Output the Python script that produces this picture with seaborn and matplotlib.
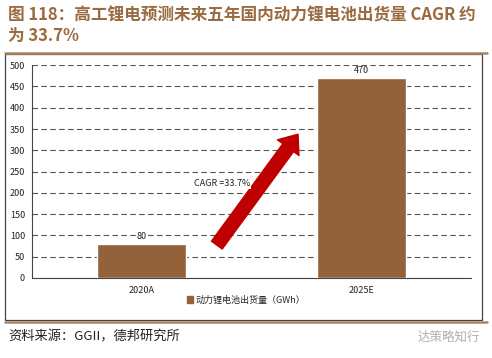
import matplotlib
matplotlib.use("Agg")
import matplotlib.pyplot as plt
import pandas as pd
import seaborn as sns
from matplotlib.lines import Line2D
from matplotlib.patches import Rectangle

# Data
categories = ["2020A", "2025E"]
shipments = [80, 470]  # GWh
cagr_label = "CAGR =33.7%"
series_name = "动力锂电池出货量（GWh）"
title = "图 118：高工锂电预测未来五年国内动力锂电池出货量 CAGR 约\n为 33.7%"
source = "资料来源：GGII，德邦研究所"
watermark = "达策略知行"
yticks = list(range(0, 550, 50))

bar_color = "#93623A"
brown = "#9A6A40"
line_brown = "#A88466"

sns.set_style("white")
plt.rcParams["font.family"] = ["Noto Sans CJK SC", "DejaVu Sans"]

df = pd.DataFrame({"year": categories, "value": shipments})

fig = plt.figure(figsize=(4.92, 3.58), dpi=100)
ax = fig.add_axes([0.065, 0.2235, 0.892, 0.5945])

sns.barplot(data=df, x="year", y="value", color=bar_color, width=0.405,
            saturation=1, ax=ax, zorder=3)

ax.set_xlim(-0.5, 1.5)
ax.set_ylim(0, 500)
ax.set_yticks(yticks)
ax.set_xlabel("")
ax.set_ylabel("")
ax.yaxis.grid(True, linestyle=(0, (5, 3)), color="#555555", linewidth=0.8)
ax.set_axisbelow(True)
for side in ["top", "right"]:
    ax.spines[side].set_visible(False)
for side in ["left", "bottom"]:
    ax.spines[side].set_color("#444444")
    ax.spines[side].set_linewidth(0.8)
ax.tick_params(axis="both", labelsize=6.5, colors="#222222", length=3, width=0.6,
               direction="out", pad=2)
ax.tick_params(axis="x", length=0, pad=6)
# ticks between categories on x axis
ax.set_xticks([0.5, 1.5], minor=True)
ax.tick_params(axis="x", which="minor", length=3, width=0.6, color="#444444")

# value labels
for i, v in enumerate(shipments):
    ax.text(i, v + 6, str(v), ha="center", va="bottom", fontsize=6.5,
            color="#222222", zorder=4,
            bbox=dict(facecolor="white", edgecolor="none", pad=0.5))

# CAGR arrow and label
ax.annotate("", xy=(0.72, 343), xytext=(0.335, 72),
            arrowprops=dict(arrowstyle="simple,head_length=1.0,head_width=1.6,tail_width=0.8",
                            color="#C00000", mutation_scale=12),
            zorder=5)
ax.text(0.365, 223, cagr_label, ha="center", va="center", fontsize=6.5,
        color="#222222", zorder=5,
        bbox=dict(facecolor="white", edgecolor="none", pad=1))

# legend
handle = Rectangle((0, 0), 1, 1, color=bar_color)
fig.legend([handle], [series_name], loc="center", bbox_to_anchor=(0.5, 0.162),
           frameon=False, fontsize=6.5, handlelength=0.7, handleheight=0.7,
           handletextpad=0.3)

# frame around chart
fig.add_artist(Rectangle((5 / 492, 1 - 320 / 358), 477 / 492, 266 / 358,
                         transform=fig.transFigure, fill=False,
                         edgecolor="#444444", linewidth=0.9))

# title and rules
fig.text(8 / 492, 1 - 6 / 358, title, ha="left", va="top", fontsize=12,
         fontweight="bold", color=brown, linespacing=1.2)
fig.add_artist(Line2D([5 / 492, 487 / 492], [1 - 52.5 / 358] * 2,
                      transform=fig.transFigure, color=line_brown, linewidth=1.8))
fig.add_artist(Line2D([5 / 492, 487 / 492], [1 - 322 / 358] * 2,
                      transform=fig.transFigure, color=line_brown, linewidth=1.8))

fig.text(8 / 492, 1 - 337 / 358, source, ha="left", va="center", fontsize=9.5,
         color="#222222")
fig.text(480 / 492, 1 - 337 / 358, watermark, ha="right", va="center",
         fontsize=9, color="#B0B0B0")

fig.savefig("out.png", dpi=100)
